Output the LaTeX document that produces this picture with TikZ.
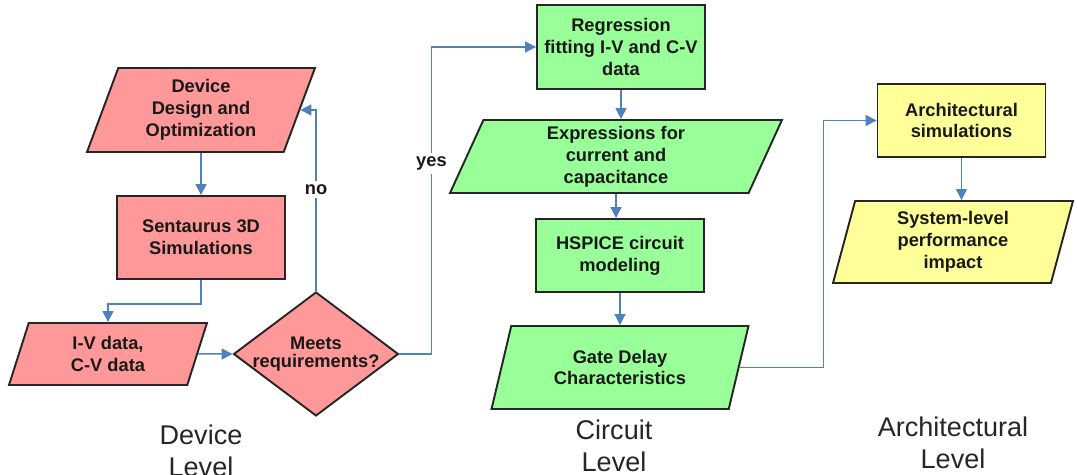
\documentclass[tikz,border=0pt]{standalone}
\usepackage{fontspec}
\setmainfont{Liberation Sans}
\usetikzlibrary{arrows.meta,shapes.geometric}
\definecolor{devpink}{HTML}{FF9999}
\definecolor{cirgreen}{HTML}{99FF99}
\definecolor{archyellow}{HTML}{FFFF99}
\definecolor{flowblue}{HTML}{4F81BD}

\begin{document}
\begin{tikzpicture}[x=0.02cm, y=0.02cm,
	box/.style={draw=black!85, line width=1.1pt, text=black!90, font=\bfseries\fontsize{10.4}{12.4}\selectfont, align=center, inner sep=1pt},
	proc/.style={box, rectangle, minimum width=3.36cm, minimum height=1.66cm},
	data/.style={box, trapezium, trapezium left angle=63, trapezium right angle=117, trapezium stretches body},
	flow/.style={flowblue, line width=0.85pt, -{Triangle[length=2.2mm, width=2.2mm]}},
	lbl/.style={fill=white, text=black!90, font=\bfseries\fontsize{10.4}{12.4}\selectfont, inner sep=2pt},
	level/.style={font=\fontsize{15.4}{18.2}\selectfont, text=black!85, align=center, inner sep=0pt, anchor=north}]
	\useasboundingbox (0,0) rectangle (1077,475);
	% device level
	\node[data, fill=devpink, minimum width=4.56cm, minimum height=1.68cm, trapezium left angle=64, trapezium right angle=116] (dd) at (201,365) {Device\\Design and\\Optimization};
	\node[proc, fill=devpink] (sim) at (201,237.5) {Sentaurus 3D\\Simulations};
	\node[data, fill=devpink, minimum width=3.96cm, minimum height=1.24cm] (iv) at (108,121) {I-V data,\\C-V data};
	\node[box, diamond, fill=devpink, minimum width=3.3cm, minimum height=2.48cm, inner sep=0pt] (req) at (316,121) {\makebox[0pt]{\shortstack{Meets\\requirements?}}};
	% circuit level
	\node[proc, fill=cirgreen, minimum height=1.68cm] (reg) at (621,428) {Regression\\fitting I-V and C-V\\data};
	\node[data, fill=cirgreen, minimum width=6.64cm, minimum height=1.46cm, trapezium left angle=62.5, trapezium right angle=117.5] (exp) at (616,318.5) {Expressions for\\current and\\capacitance};
	\node[proc, fill=cirgreen, minimum height=1.46cm] (hsp) at (620,219.5) {HSPICE circuit\\modeling};
	\node[data, fill=cirgreen, minimum width=5.14cm, minimum height=1.66cm] (gd) at (620,107.5) {Gate Delay\\Characteristics};
	% architectural level
	\node[proc, fill=archyellow, minimum height=1.46cm] (arch) at (961.5,354.5) {Architectural\\simulations};
	\node[data, fill=archyellow, minimum width=4.8cm, minimum height=1.64cm, trapezium left angle=71, trapezium right angle=109] (sys) at (953,233) {System-level\\performance\\impact};

	\draw[flow] (sim.north |- dd.south) -- (sim.north);
	\draw[flow] (sim.south) -- ++(0,-24) -| (iv.north);
	\draw[flow] (iv.east) -- (req.west);
	\draw[flow] (req.north) |- node[lbl, pos=0.28] {no} (dd.east);
	\draw[flow] (req.east) -- ++(32,0) |- node[lbl, pos=0.31] {yes} (reg.west);
	\foreach \a/\b in {reg/exp, exp/hsp, hsp/gd, arch/sys} \draw[flow] (\a.south) -- (\a.south |- \b.north);
	\draw[flow] (gd.east) -- ++(84,0) |- (arch.west);

	\node[level] (devlvl) at (201,50) {Device\\Level};
	\node[level] (cirlvl) at (614,55) {Circuit\\Level};
	\node[level] (archlvl) at (953,58) {Architectural\\Level};
\end{tikzpicture}
\end{document}
